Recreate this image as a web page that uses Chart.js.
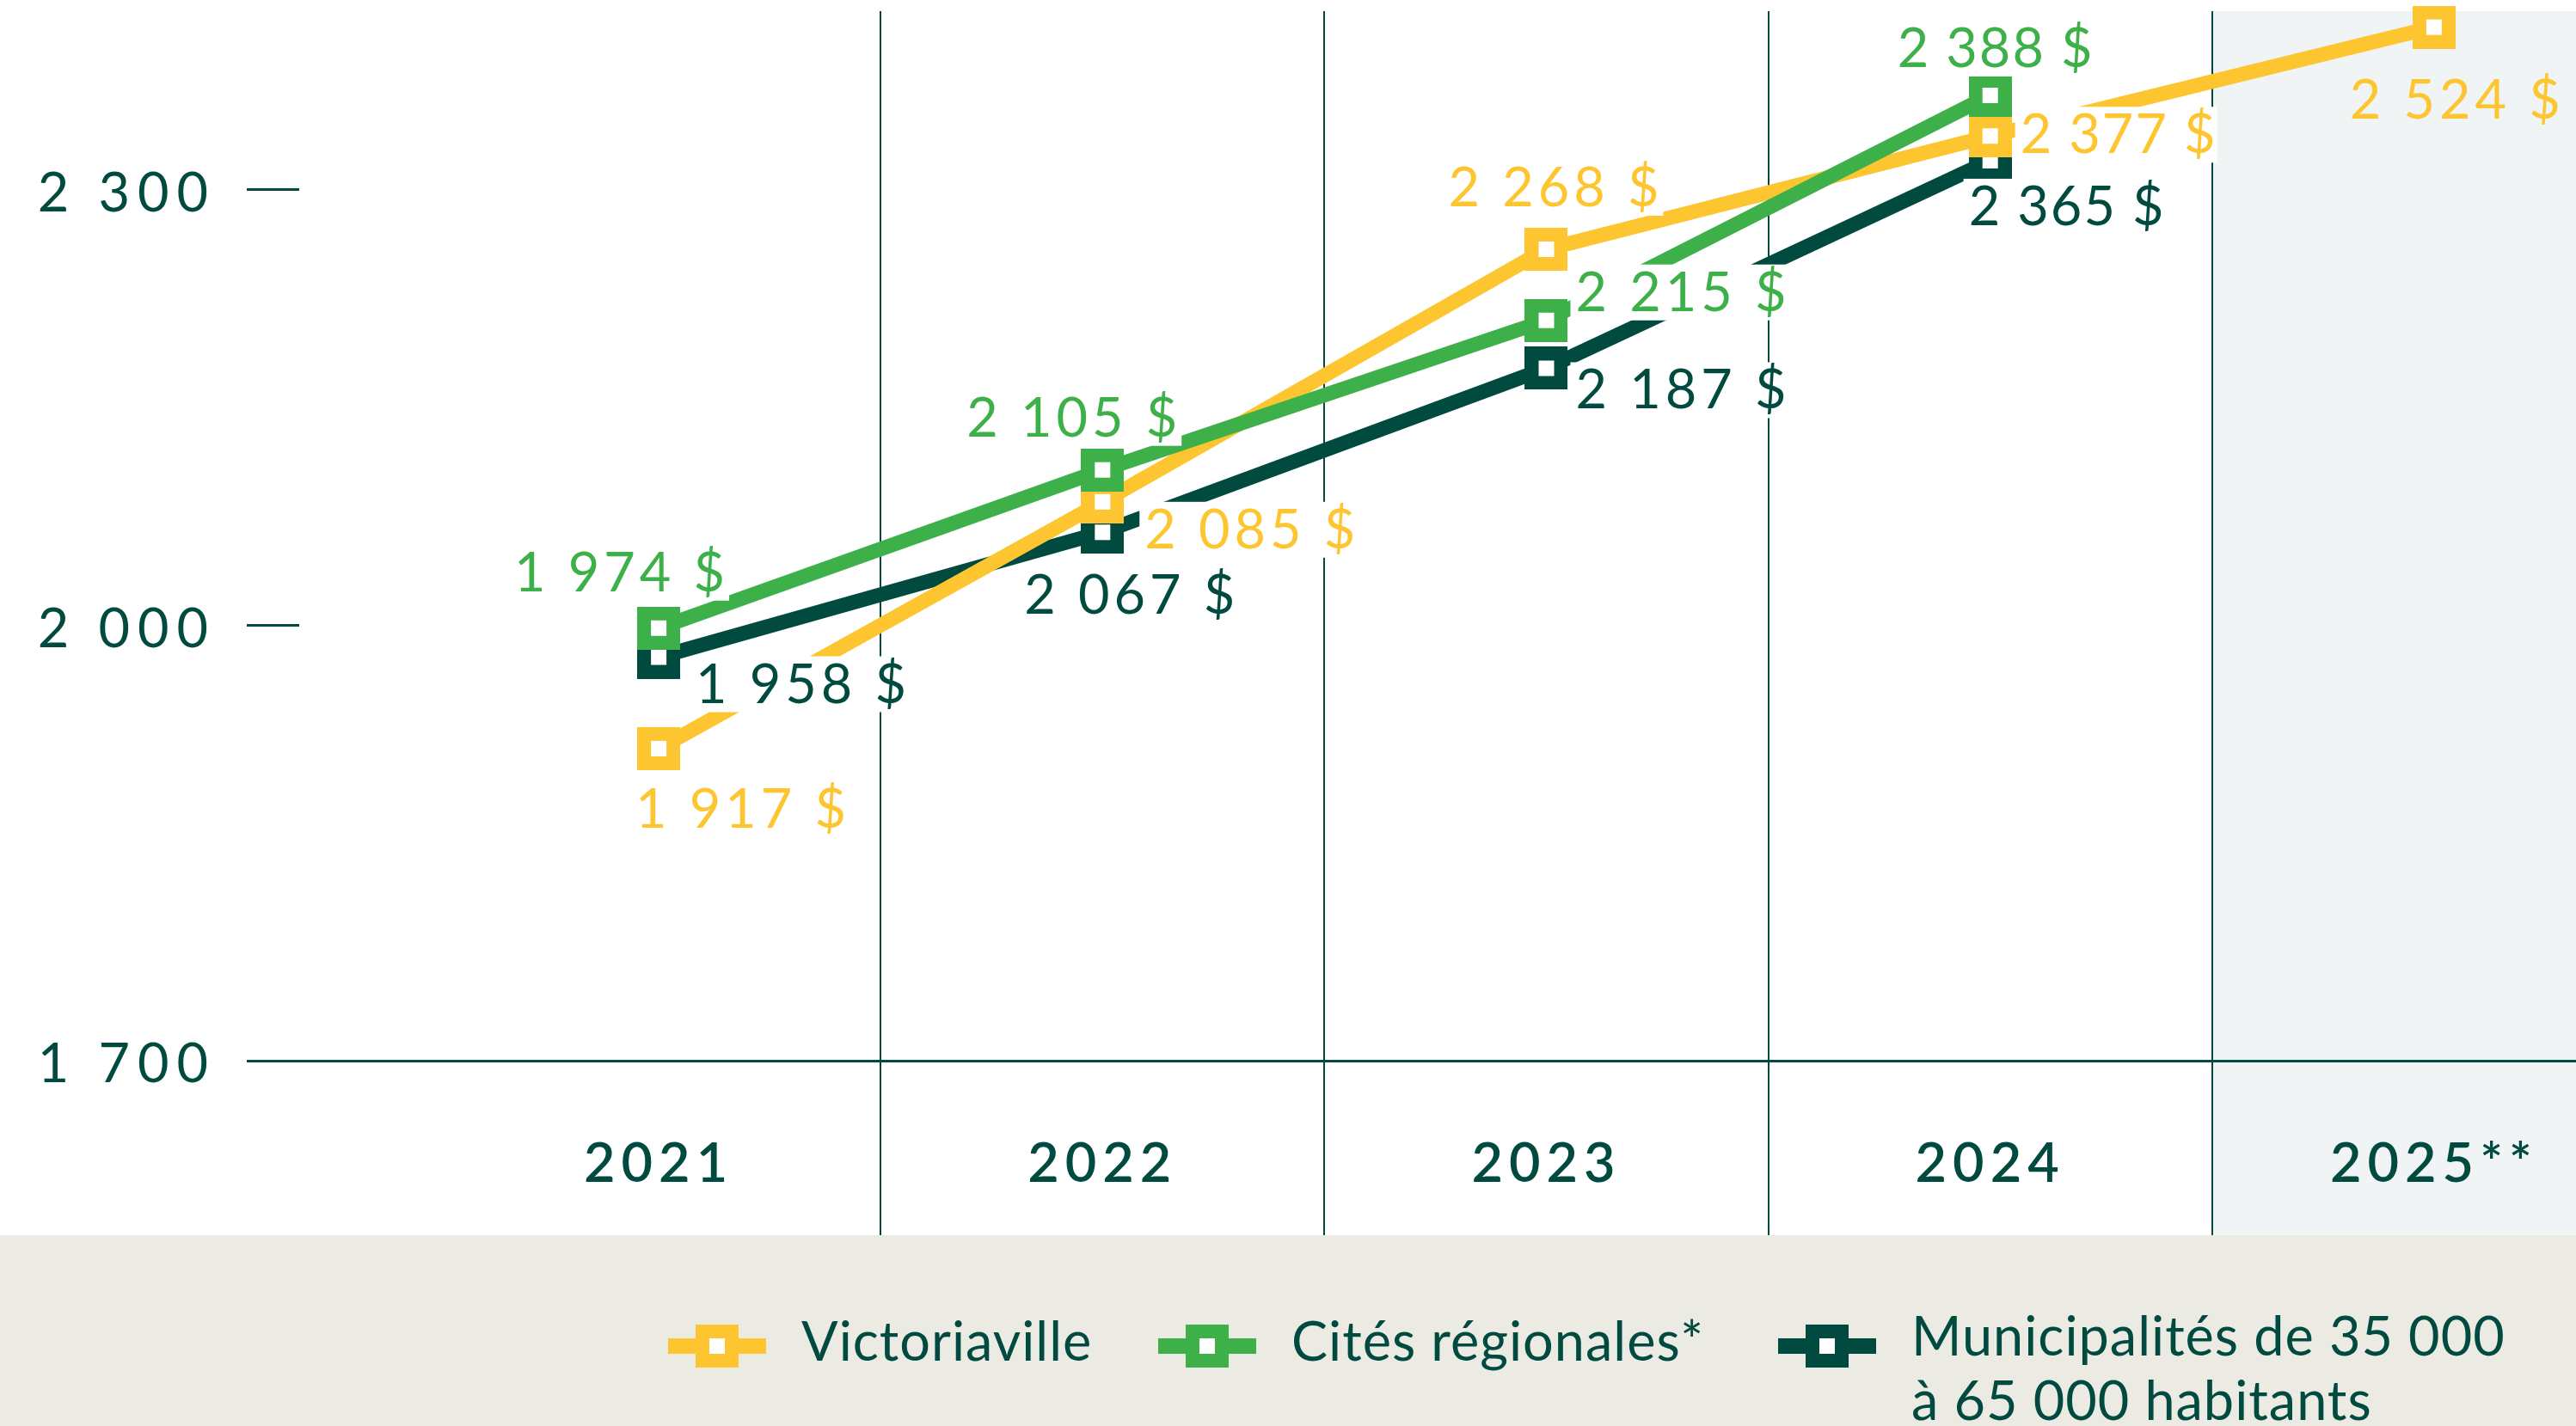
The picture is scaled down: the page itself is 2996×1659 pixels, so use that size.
<!DOCTYPE html>
<html><head><meta charset="utf-8">
<script src="https://cdn.jsdelivr.net/npm/chart.js@4/dist/chart.umd.min.js"></script>
<style>html,body{margin:0;padding:0;background:#fff;overflow:hidden}canvas{display:block}</style>
</head><body>
<canvas id="c" width="2996" height="1659"></canvas>
<script>
// ---------- data ----------
const years = [2021, 2022, 2023, 2024, 2025];
const yearLabels = ['2021', '2022', '2023', '2024', '2025**'];
const seriesNames = ['Victoriaville', 'Cités régionales*', 'Municipalités de 35 000 à 65 000 habitants'];
const legendLines = [['Victoriaville'], ['Cités régionales*'], ['Municipalités de 35 000', 'à 65 000 habitants']];
// values as drawn in the picture (read against the axis)
const victoriaville = [1915, 2085, 2259, 2337, 2412];
const citesRegionales = [1998, 2107, 2210, 2365];
const municipalites = [1978, 2064, 2177, 2320];
// values printed on the labels
const victoriavilleLabels = [1917, 2085, 2268, 2377, 2524];
const citesRegionalesLabels = [1974, 2105, 2215, 2388];
const municipalitesLabels = [1958, 2067, 2187, 2365];
const yTicks = [1700, 2000, 2300];

// ---------- styles ----------
const C = { yellow: '#FDC52F', green: '#3EB04A', dark: '#004A40', shade: '#F0F4F4', beige: '#EBEAE3' };
const seriesColors = [C.yellow, C.green, C.dark];
const drawOrder = [1, 0, 2];
const plotted = [victoriaville, citesRegionales, municipalites];
const printed = [victoriavilleLabels, citesRegionalesLabels, municipalitesLabels];
// label placement relative to the point: [dx to text left, dy to baseline]
const labelOffsets = [
  [[-27, 92], [49, 54], [-114, -50], [35, 20], [-98, 106]],
  [[-168, -43], [-158, -39], [34, -11], [-108, -33]],
  [[43, 53], [-91, 95], [34, 47], [-25, 75]]
];
const labelSpacingByColumn = [5, 5, 5, 2, 5];
const FONT = 'Lato, "Open Sans", sans-serif';
const fmt = v => String(v).replace(/\B(?=(\d{3})+(?!\d))/g, ' ');

function markerImage(color) {
  const s = 50, inner = 18, o = (s - inner) / 2;
  const cv = document.createElement('canvas'); cv.width = s; cv.height = s;
  const g = cv.getContext('2d');
  g.fillStyle = color; g.fillRect(0, 0, s, s);
  g.fillStyle = '#fff'; g.fillRect(o, o, inner, inner);
  return cv;
}
const markers = seriesColors.map(markerImage);

const letterSpacing = { x: '7px', y: '9px' };

const bgPlugin = {
  id: 'bg',
  beforeDraw(chart) {
    const { ctx, chartArea } = chart;
    const xs = chart.scales.x;
    const legendTop = xs.bottom;
    ctx.save();
    ctx.fillStyle = C.beige;
    ctx.fillRect(0, legendTop, chart.width, chart.height - legendTop);
    const shadeStart = (years[years.length - 2] + years[years.length - 1]) / 2;
    const sx = xs.getPixelForValue(shadeStart);
    ctx.fillStyle = C.shade;
    ctx.fillRect(sx, chartArea.top, chart.width - sx, legendTop - chartArea.top);
    ctx.strokeStyle = C.dark; ctx.lineWidth = 2;
    for (let i = 0; i < years.length - 1; i++) {
      const px = Math.round(xs.getPixelForValue((years[i] + years[i + 1]) / 2));
      ctx.beginPath(); ctx.moveTo(px, chartArea.top); ctx.lineTo(px, legendTop); ctx.stroke();
    }
    ctx.restore();
    // letter spacing on axis labels
    Object.values(chart.scales).forEach(s => {
      if (s._lsPatched) return;
      const orig = s.drawLabels.bind(s);
      s.drawLabels = function (area) {
        chart.ctx.save(); chart.ctx.letterSpacing = letterSpacing[s.id] || '0px';
        orig(area); chart.ctx.restore();
      };
      s._lsPatched = true;
    });
  }
};

const labelPlugin = {
  id: 'valueLabels',
  afterDatasetsDraw(chart) {
    const ctx = chart.ctx, xs = chart.scales.x;
    const shadeLeft = xs.getPixelForValue((years[years.length - 2] + years[years.length - 1]) / 2);
    ctx.save();
    ctx.font = '400 63px ' + FONT;
    ctx.textBaseline = 'alphabetic'; ctx.textAlign = 'left';
    chart.data.datasets.forEach((ds, i) => {
      chart.getDatasetMeta(i).data.forEach((pt, j) => {
        ctx.letterSpacing = labelSpacingByColumn[j] + 'px';
        const txt = fmt(printed[i][j]) + ' $';
        const [dx, dy] = labelOffsets[i][j];
        const x = pt.x + dx, y = pt.y + dy;
        const w = ctx.measureText(txt).width;
        ctx.fillStyle = x > shadeLeft ? C.shade : '#fff';
        ctx.fillRect(x - 6, y - 54, w + 6, 65);
        ctx.fillStyle = ds.borderColor;
        ctx.fillText(txt, x, y);
      });
    });
    ctx.restore();
  }
};

const legendPlugin = {
  id: 'customLegend',
  afterDraw(chart) {
    const ctx = chart.ctx;
    const iconX = [834, 1404, 2125], iconY = 1566, textGap = 98;
    ctx.save();
    ctx.font = '400 63px ' + FONT;
    ctx.letterSpacing = '1px';
    ctx.textBaseline = 'alphabetic'; ctx.textAlign = 'left';
    chart.data.datasets.forEach((ds, i) => {
      const cx = iconX[i];
      ctx.fillStyle = ds.borderColor;
      ctx.fillRect(cx - 57, iconY - 9, 114, 18);
      ctx.drawImage(markers[i], cx - 25, iconY - 25);
      ctx.fillStyle = C.dark;
      const lines = legendLines[i];
      const base = lines.length > 1 ? 1577 : 1583;
      lines.forEach((l, k) => ctx.fillText(l, cx + textGap, base + k * 75));
    });
    ctx.restore();
  }
};

new Chart(document.getElementById('c'), {
  type: 'line',
  data: {
    datasets: plotted.map((vals, i) => ({
      label: seriesNames[i],
      data: vals.map((v, j) => ({ x: years[j], y: v })),
      borderColor: seriesColors[i],
      backgroundColor: seriesColors[i],
      borderWidth: 17,
      borderCapStyle: 'butt',
      pointStyle: markers[i],
      pointRadius: 25,
      pointHoverRadius: 25,
      tension: 0,
      order: drawOrder[i],
      clip: false
    }))
  },
  options: {
    responsive: false,
    devicePixelRatio: 1,
    animation: false,
    events: [],
    layout: { autoPadding: false, padding: { top: 13, bottom: 222, left: 0, right: 0 } },
    plugins: { legend: { display: false }, tooltip: { enabled: false } },
    scales: {
      x: {
        type: 'linear', min: 2020.19, max: 2025.32,
        afterBuildTicks: s => { s.ticks = years.map(v => ({ value: v })); },
        afterFit: s => { s.height = 203; s.paddingLeft = 0; s.paddingRight = 0; },
        grid: { display: false, drawTicks: false },
        border: { display: true, color: C.dark, width: 3 },
        ticks: {
          padding: 83, color: C.dark, autoSkip: false, maxRotation: 0,
          font: { family: FONT, size: 63, weight: '600' },
          callback: v => yearLabels[years.indexOf(v)]
        }
      },
      y: {
        type: 'linear', min: 1700, max: 2423,
        afterBuildTicks: s => { s.ticks = yTicks.map(v => ({ value: v })); },
        afterFit: s => { s.width = 348; s.paddingTop = 0; s.paddingBottom = 0; },
        grid: { drawOnChartArea: false, drawTicks: true, tickLength: 61, color: C.dark, lineWidth: 3 },
        border: { display: false },
        ticks: {
          padding: 36, labelOffset: 5, color: C.dark,
          font: { family: FONT, size: 63, weight: 'normal' },
          callback: v => fmt(v)
        }
      }
    }
  },
  plugins: [bgPlugin, labelPlugin, legendPlugin]
});
</script>
</body></html>
